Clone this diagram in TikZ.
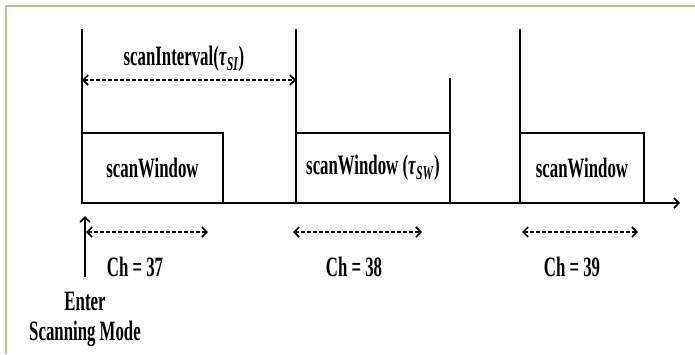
\documentclass[tikz,border=0pt]{standalone}
\usepackage{fontspec}
\newfontfamily\lblfont{Liberation Serif}[FakeStretch=0.6,UprightFont=* Bold,ItalicFont=* Bold Italic]
\usetikzlibrary{positioning,arrows.meta}
\definecolor{framegreen}{RGB}{168,206,140}

\begin{document}
\begin{tikzpicture}[
    x=1pt, y=-1pt,
    >={Straight Barb[length=5pt,width=10pt,line width=1.6pt]},
    lbl/.style={font=\lblfont\fontsize{28}{30}\selectfont, inner sep=1pt},
    win/.style={draw, line width=2.8pt, minimum height=70pt, inner sep=0pt,
                outer sep=0pt, lbl},
    tick/.style={line width=2pt},
    axis/.style={->, line width=1.6pt},
    span/.style={<->, line width=1.6pt, dash pattern=on 4pt off 2pt},
    frame/.style={draw=framegreen, line width=1.5pt},
  ]
    \useasboundingbox (0,0) rectangle (695,354);
    \draw[frame] (6,354) -- (6,6) -- (695,6);

    % time axis
    \coordinate (t0)   at (82,203);
    \coordinate (tend) at (680,203);
    \draw[axis] (t0) -- (tend);

    % scan windows, one per channel
    \node[win, minimum width=141pt] (win1) at (152.5,168) {scanWindow};
    \node[win, minimum width=154pt] (win2) at (373,168)
      {scanWindow (\textit{τ}\textsubscript{\textit{SW}})};
    \node[win, minimum width=124pt] (win3) at (582,168) {scanWindow};

    % interval ticks
    \coordinate (top1)  at (82,29);
    \coordinate (top2)  at (296,29);
    \coordinate (top3)  at (520,29);
    \coordinate (top2r) at (450,78);
    \draw[tick] (top1) -- (win1.north west);
    \draw[tick] (top2) -- (win2.north west);
    \draw[tick] (top3) -- (win3.north west);
    \draw[tick] (top2r) -- (win2.north east);

    % scan interval
    \coordinate (siL) at (82,80);
    \coordinate (siR) at (296,80);
    \draw[span] (siL) -- (siR);
    \node[lbl] (silbl) at (184,59)
      {scanInterval(\textit{τ}\textsubscript{\textit{SI}})};

    % channel spans
    \coordinate (c37L) at (86,232);  \coordinate (c37R) at (208,232);
    \coordinate (c38L) at (293,232); \coordinate (c38R) at (422,232);
    \coordinate (c39L) at (522,232); \coordinate (c39R) at (638,232);
    \draw[span] (c37L) -- (c37R);
    \draw[span] (c38L) -- (c38R);
    \draw[span] (c39L) -- (c39R);
    \node[lbl] (ch37) at (135,267) {Ch = 37};
    \node[lbl] (ch38) at (354,267) {Ch = 38};
    \node[lbl] (ch39) at (572,267) {Ch = 39};

    % start of scanning
    \coordinate (entfoot) at (85,277);
    \coordinate (enthead) at (85,216);
    \draw[->, line width=1.6pt] (entfoot) -- (enthead);
    \node[lbl] (enter) at (85,301) {Enter};
    \node[lbl] (mode)  at (85,334) {Scanning Mode};
\end{tikzpicture}
\end{document}
